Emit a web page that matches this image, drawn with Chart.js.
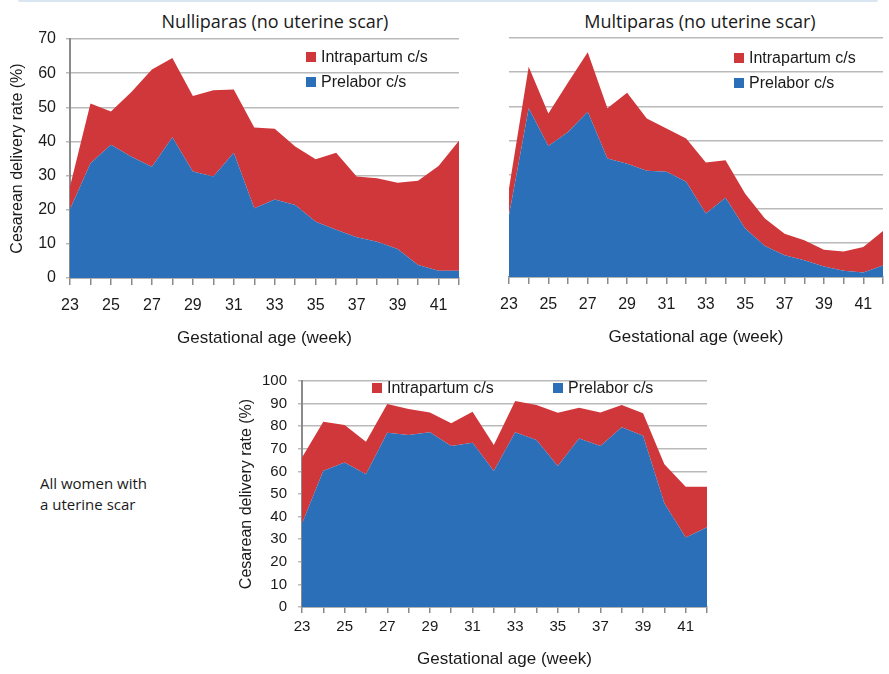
<!DOCTYPE html>
<html>
<head>
<meta charset="utf-8">
<script src="https://cdn.jsdelivr.net/npm/chart.js@4.4.1/dist/chart.umd.min.js"></script>
<style>
    html, body { margin: 0; padding: 0; background: #fff; width: 889px; height: 674px; overflow: hidden; }
    body { position: relative; }
    canvas { position: absolute; }
    .frame-edge { position: absolute; left: 18px; top: 0; width: 860px; height: 2px; background: #d9e5f0; border-radius: 0 0 3px 3px; }
    .heading { position: absolute; top: 10px; font-family: "Open Sans", "Noto Sans", sans-serif; font-size: 18px; line-height: 22px; color: #1a1a1a; white-space: nowrap; transform: translateX(-50%); }
    .note { position: absolute; left: 40px; top: 473px; font-family: "Open Sans", "Noto Sans", sans-serif; font-size: 15px; line-height: 21px; color: #1a1a1a; }
</style>
</head>
<body>
    <div class="frame-edge"></div>
    <div class="heading" style="left: 275px;">Nulliparas (no uterine scar)</div>
    <div class="heading" style="left: 700px;">Multiparas (no uterine scar)</div>
    <div class="note">All women with<br>a uterine scar</div>

    <canvas id="nulli-chart" width="470" height="360" style="left: 0; top: 0;"></canvas>
    <canvas id="multi-chart" width="424" height="360" style="left: 470px; top: 0;"></canvas>
    <canvas id="scar-chart" width="500" height="314" style="left: 220px; top: 360px;"></canvas>

<script>
// gestational week, one entry per point
const weeks = [23, 24, 25, 26, 27, 28, 29, 30, 31, 32, 33, 34, 35, 36, 37, 38, 39, 40, 41, 42];

// cesarean delivery rate (%), prelabor part and intrapartum part stacked on top
const nulliPrelabor    = [20.1, 33.6, 39.0, 35.5, 32.6, 41.2, 31.2, 29.7, 36.7, 20.4, 23.0, 21.4, 16.5, 14.1, 11.9, 10.6, 8.5, 3.8, 2.1, 2.1];
const nulliIntrapartum = [6.7, 17.5, 9.8, 19.0, 28.5, 23.2, 22.1, 25.3, 18.5, 23.7, 20.7, 17.1, 18.3, 22.6, 17.8, 18.6, 19.4, 24.7, 30.7, 38.1];

const multiPrelabor    = [18.1, 49.4, 38.4, 42.5, 48.4, 34.7, 33.2, 31.1, 30.8, 27.9, 18.6, 23.2, 14.2, 9.1, 6.4, 4.9, 3.1, 1.8, 1.3, 3.4];
const multiIntrapartum = [7.8, 12.2, 9.5, 14.5, 17.4, 14.7, 20.8, 15.3, 12.7, 12.7, 14.9, 11.0, 10.2, 8.0, 6.3, 5.9, 4.9, 5.7, 7.5, 10.1];

const scarPrelabor    = [37.0, 60.3, 63.9, 58.7, 77.1, 76.1, 77.3, 71.2, 72.7, 60.2, 77.3, 73.9, 62.4, 74.6, 71.2, 79.5, 75.8, 45.9, 30.8, 35.3];
const scarIntrapartum = [29.2, 21.7, 16.6, 14.4, 12.7, 11.5, 8.8, 10.1, 13.7, 11.5, 13.9, 15.5, 23.6, 13.6, 14.9, 9.9, 9.9, 17.3, 22.4, 17.9];

const RED = '#d0373b';
const BLUE = '#2a6fb8';
const TEXT = '#1a1a1a';
const LEGEND_FONT = '16px "Liberation Sans", Arial, sans-serif';

Chart.defaults.font.family = '"Liberation Sans", Arial, sans-serif';
Chart.defaults.color = TEXT;

// small legend drawn at fixed spots inside the plot (Intrapartum first, like the figure)
const boxLegend = {
    id: 'boxLegend',
    afterDraw(chart, args, opts) {
        const { ctx } = chart;
        const items = [...chart.data.datasets].reverse();
        ctx.save();
        ctx.font = opts.font;
        ctx.textBaseline = 'middle';
        items.forEach((ds, i) => {
            const x = opts.x + i * opts.dx;
            const y = opts.y + i * opts.dy;
            ctx.fillStyle = ds.backgroundColor;
            ctx.fillRect(x, y - 5, 10, 10);
            ctx.fillStyle = TEXT;
            ctx.fillText(ds.label, x + 15, y + 1);
        });
        ctx.restore();
    }
};

function oddWeekLabel(value) {
    const w = this.getLabelForValue(value);
    return Number(w) % 2 ? String(w) : '';
}

function buildAreaChart(id, prelabor, intrapartum, cfg) {
    return new Chart(id, {
        type: 'line',
        data: {
            labels: weeks,
            datasets: [
                { label: 'Prelabor c/s', data: prelabor, backgroundColor: BLUE, borderColor: 'rgba(0,0,0,0)', borderWidth: 0, fill: 'origin', pointRadius: 0, tension: 0 },
                { label: 'Intrapartum c/s', data: intrapartum, backgroundColor: RED, borderColor: 'rgba(0,0,0,0)', borderWidth: 0, fill: '-1', pointRadius: 0, tension: 0 }
            ]
        },
        options: {
            responsive: false,
            animation: false,
            layout: { padding: cfg.padding },
            plugins: {
                legend: { display: false },
                tooltip: { enabled: false },
                boxLegend: cfg.legend
            },
            scales: {
                x: {
                    ticks: { autoSkip: false, maxRotation: 0, font: { size: cfg.xFont }, padding: cfg.xPad, callback: oddWeekLabel },
                    grid: { drawOnChartArea: false, tickLength: cfg.xTick, color: '#8a8a8a', lineWidth: 1.5 },
                    border: { color: '#8a8a8a', width: 1.5 },
                    title: { display: true, text: 'Gestational age (week)', font: { size: 17 }, padding: { top: 0, bottom: 4 } },
                    afterFit: s => { s.height = cfg.xHeight; }
                },
                y: {
                    stacked: true,
                    min: 0,
                    max: cfg.yMax,
                    ticks: { display: cfg.showY, stepSize: 10, font: { size: cfg.yFont }, padding: cfg.yPad },
                    grid: { color: '#bababa', lineWidth: 1.5, drawTicks: cfg.showY, tickLength: 4 },
                    border: { display: cfg.showY, color: '#8a8a8a', width: 2 },
                    title: { display: cfg.showY, text: 'Cesarean delivery rate (%)', font: { size: 16 }, padding: { top: cfg.yTitlePad, bottom: 0 } },
                    afterFit: s => { s.width = cfg.yWidth; }
                }
            }
        },
        plugins: [boxLegend]
    });
}

buildAreaChart('nulli-chart', nulliPrelabor, nulliIntrapartum, {
    padding: { top: 39, right: 8, bottom: 7, left: 0 },
    legend: { x: 306, y: 57, dx: 0, dy: 25, font: LEGEND_FONT },
    yMax: 70, showY: true, yWidth: 70, yFont: 16, yPad: 10, yTitlePad: 8,
    xFont: 16, xPad: 11, xTick: 7, xHeight: 75
});

buildAreaChart('multi-chart', multiPrelabor, multiIntrapartum, {
    padding: { top: 38, right: 0, bottom: 8, left: 0 },
    legend: { x: 264, y: 58, dx: 0, dy: 25, font: LEGEND_FONT },
    yMax: 70, showY: false, yWidth: 39, yFont: 16, yPad: 10, yTitlePad: 8,
    xFont: 16, xPad: 11, xTick: 7, xHeight: 75
});

buildAreaChart('scar-chart', scarPrelabor, scarIntrapartum, {
    padding: { top: 21, right: 13, bottom: 0, left: 0 },
    legend: { x: 152, y: 28, dx: 181, dy: 0, font: LEGEND_FONT },
    yMax: 100, showY: true, yWidth: 82, yFont: 15, yPad: 11, yTitlePad: 17,
    xFont: 15, xPad: 5, xTick: 6, xHeight: 67
});
</script>
</body>
</html>
